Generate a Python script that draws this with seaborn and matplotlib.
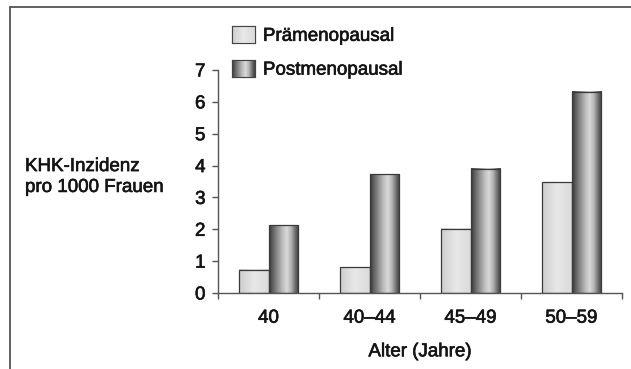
import numpy as np
import pandas as pd
import matplotlib
matplotlib.use("Agg")
import matplotlib.pyplot as plt
import matplotlib.patheffects as pe
import seaborn as sns
from matplotlib.colors import LinearSegmentedColormap
from matplotlib.patches import Patch
from matplotlib.lines import Line2D

# ---- data ----
categories = ["40", "40–44", "45–49", "50–59"]
series = ["Prämenopausal", "Postmenopausal"]
pre_values = [0.73, 0.81, 2.02, 3.48]
post_values = [2.13, 3.72, 3.90, 6.32]
y_ticks = [0, 1, 2, 3, 4, 5, 6, 7]
x_label = "Alter (Jahre)"
y_label = "KHK-Inzidenz\npro 1000 Frauen"

sns.set_theme(style="white")
plt.rcParams["font.family"] = ["Liberation Sans", "DejaVu Sans"]
TEXT = "#141414"
AX = "#555555"
FS = 13.5
HEAVY = [pe.withStroke(linewidth=0.45, foreground=TEXT)]

df = pd.DataFrame({
    "Alter": categories * 2,
    "Wert": pre_values + post_values,
    "Gruppe": [series[0]] * len(categories) + [series[1]] * len(categories),
})

light_cmap = LinearSegmentedColormap.from_list(
    "light", [(0, "#cdcdcd"), (0.5, "#e8e8e8"), (1, "#dadada")])
dark_cmap = LinearSegmentedColormap.from_list(
    "dark", [(0, "#3a3a3a"), (0.15, "#6a6a6a"), (0.45, "#bdbdbd"), (0.6, "#d9d9d9"),
             (0.75, "#b0b0b0"), (0.9, "#666666"), (1, "#404040")])
cmaps = [light_cmap, dark_cmap]
grad = np.linspace(0, 1, 64).reshape(1, -1)

fig = plt.figure(figsize=(6.31, 3.69), dpi=100)
ax = fig.add_axes([218 / 631, 1 - 293 / 369, (622 - 218) / 631, (293 - 70) / 369])

sns.barplot(data=df, x="Alter", y="Wert", hue="Gruppe", order=categories,
            hue_order=series, width=0.58, palette=["#dedede", "#8a8a8a"],
            edgecolor="#3a3a3a", linewidth=0.9, saturation=1, errorbar=None,
            legend=False, ax=ax)

# gradient fills clipped to the bars
for cont, cmap in zip(ax.containers, cmaps):
    for bar in cont:
        x0, y0 = bar.get_x(), bar.get_y()
        w, h = bar.get_width(), bar.get_height()
        ax.imshow(grad, extent=[x0, x0 + w, y0, y0 + h], aspect="auto",
                  cmap=cmap, zorder=2, interpolation="bilinear")
        bar.set_facecolor("none")
        bar.set_zorder(3)

ax.set_xlim(-0.5, len(categories) - 0.5)
ax.set_ylim(0, 7)
ax.set_yticks(y_ticks)
ax.set_xticks(range(len(categories)))
ax.set_xticklabels(categories)
ax.set_xticks(np.arange(-0.5, len(categories), 1.0), minor=True)

for s in ["top", "right"]:
    ax.spines[s].set_visible(False)
for s in ["left", "bottom"]:
    ax.spines[s].set_color(AX)
    ax.spines[s].set_linewidth(1.0)

ax.tick_params(axis="y", left=True, length=4, width=1, color=AX, pad=5,
               labelsize=FS, labelcolor=TEXT)
ax.tick_params(axis="x", which="major", bottom=False, length=0, pad=12,
               labelsize=FS, labelcolor=TEXT)
ax.tick_params(axis="x", which="minor", bottom=True, length=4, width=1,
               color=AX, direction="out")
ax.set_ylabel("")
ax.set_xlabel(x_label, fontsize=FS, color=TEXT, labelpad=12)
ax.xaxis.label.set_path_effects(HEAVY)
for t in ax.get_xticklabels() + ax.get_yticklabels():
    t.set_path_effects(HEAVY)

fig.text(25 / 631, 1 - 177 / 369, y_label, ha="left", va="center",
         fontsize=FS, color=TEXT, linespacing=1.3, path_effects=HEAVY)

handles = [Patch(facecolor="#dedede", edgecolor="#444444", linewidth=0.8),
           Patch(facecolor="#8a8a8a", edgecolor="#444444", linewidth=0.8)]
leg = ax.legend(handles, series, loc="upper left",
                bbox_to_anchor=(232 / 631, 1 - 26 / 369),
                bbox_transform=fig.transFigure, frameon=False, fontsize=FS,
                handlelength=1.2, handleheight=1.0, handletextpad=0.45,
                labelspacing=0.8, borderpad=0, borderaxespad=0)
for t in leg.get_texts():
    t.set_color(TEXT)
    t.set_path_effects(HEAVY)

# frame lines of the figure panel
fig.add_artist(Line2D([10 / 631, 1], [1 - 7 / 369, 1 - 7 / 369],
                      transform=fig.transFigure, color=AX, lw=1.3))
fig.add_artist(Line2D([10 / 631, 10 / 631], [0, 1 - 7 / 369],
                      transform=fig.transFigure, color=AX, lw=1.3))

# gradient swatches in the legend
fig.canvas.draw()
renderer = fig.canvas.get_renderer()
for patch, cmap in zip(leg.get_patches(), cmaps):
    bb = patch.get_window_extent(renderer).transformed(fig.transFigure.inverted())
    lax = fig.add_axes([bb.x0, bb.y0, bb.width, bb.height])
    lax.imshow(grad, aspect="auto", cmap=cmap, extent=[0, 1, 0, 1],
               interpolation="bilinear")
    lax.set_xticks([])
    lax.set_yticks([])
    for sp in lax.spines.values():
        sp.set_color("#444444")
        sp.set_linewidth(0.8)

fig.savefig("out.png", dpi=100)
